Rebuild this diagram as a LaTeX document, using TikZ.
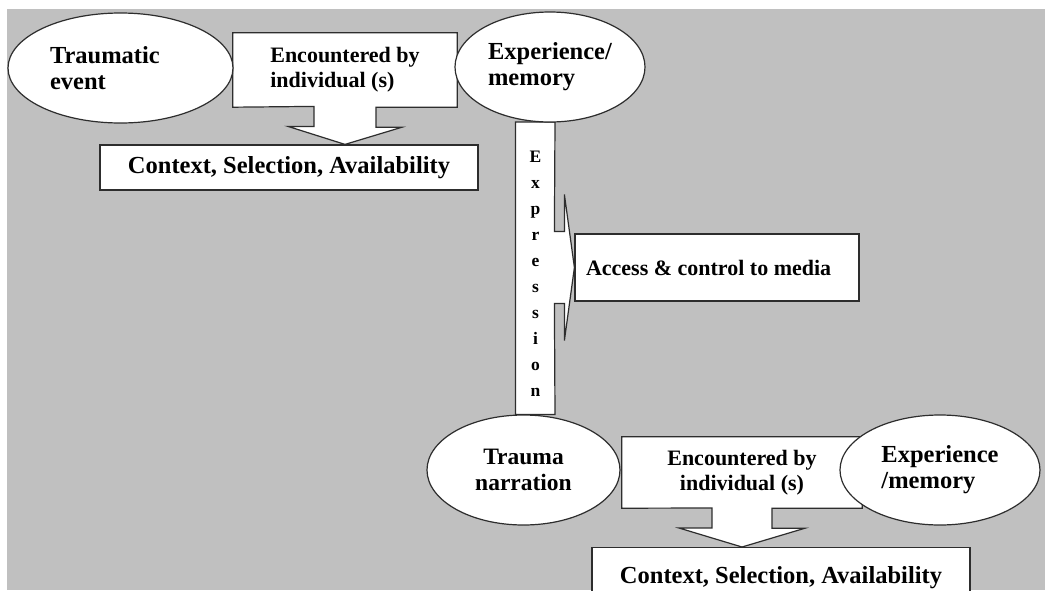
\documentclass[tikz,border=0pt]{standalone}
\usepackage{fontspec}
\setmainfont{Liberation Serif}
\usetikzlibrary{shapes.geometric,backgrounds,calc}
\definecolor{bggray}{RGB}{192,192,192}
\definecolor{edge}{RGB}{45,45,45}

\begin{document}
\begin{tikzpicture}[
        x=1pt, y=-1pt,
        font=\bfseries\fontsize{24.5}{26}\selectfont,
        oval/.style={ellipse, draw=edge, line width=1.2pt, fill=white, inner sep=0pt},
        box/.style={draw=edge, line width=1.2pt, fill=white, inner sep=0pt},
        callout/.style={inner sep=0pt, font=\bfseries\fontsize{22}{25}\selectfont},
        outline/.style={draw=edge, line width=1.2pt, fill=white, line join=miter}
    ]
        \useasboundingbox (0,0) rectangle (1045,590);
        \clip (0,0) rectangle (1045,590);
        \begin{pgfonlayer}{background}
            \fill[white] (0,0) rectangle (1045,590);
            \fill[bggray] (7,9) rectangle (1045,590);
        \end{pgfonlayer}

        % first row
        \node[oval, minimum width=225pt, minimum height=110pt, text width=141pt, align=flush left] (trauma) at (120.5,68) {Traumatic\\event};
        \node[callout, align=left, minimum width=224pt, minimum height=74pt] (encone) at (345,70) {Encountered by\\individual (s)};
        \node[oval, minimum width=190pt, minimum height=110pt, align=left] (expone) at (550,67) {Experience/\\memory};
        \node[box, minimum width=378pt, minimum height=45pt] (ctxone) at (289,167.5) {Context, Selection, Availability};

        % middle
        \node[box, minimum width=284pt, minimum height=67pt, text width=262pt, align=flush left, font=\bfseries\fontsize{22}{25}\selectfont] (access) at (717,267.5) {Access \& control to media};

        % second row
        \node[oval, minimum width=193pt, minimum height=110pt, align=center, font=\bfseries\fontsize{23.5}{26}\selectfont] (narration) at (523.5,470) {Trauma\\narration};
        \node[callout, align=center, minimum width=240pt, minimum height=71pt] (enctwo) at (742,472.5) {Encountered by\\individual (s)};
        \node[oval, minimum width=200pt, minimum height=110pt, align=left] (exptwo) at (940,470) {Experience\\/memory};
        \node[box, minimum width=378pt, minimum height=60pt, anchor=north] (ctxtwo) at (781,547) {Context, Selection, Availability};

        \coordinate (bartop) at (535.5,122);
        \coordinate (barbot) at (bartop |- narration.north);
        \node[font=\bfseries\fontsize{17.5}{26}\selectfont, align=center, inner sep=0pt] (expr) at (535.5,274) {E\\x\\p\\r\\e\\s\\s\\i\\o\\n};

        % block arrows
        \begin{pgfonlayer}{background}
            \draw[outline] (encone.north west) -- (encone.north east) -- (encone.south east)
                -- ([xshift=31pt]encone.south) -- ++(0,20) -- ++(26,0) -- (encone.south |- ctxone.north)
                -- ++(-57,-18) -- ++(26,0) -- ++(0,-20) -- (encone.south west) -- cycle;
            \draw[outline] ($(bartop)+(-20,0)$) -- ($(bartop)+(19.5,0)$) -- ($(access.west)+(-20,-36)$)
                -- ($(access.west)+(-10,-36)$) -- ($(access.west)+(-10,-73)$) -- (access.west)
                -- ($(access.west)+(-10,73)$) -- ($(access.west)+(-10,36)$) -- ($(access.west)+(-20,36)$)
                -- ($(barbot)+(19.5,0)$) -- ($(barbot)+(-20,0)$) -- cycle;
            \draw[outline] (enctwo.north west) -- (enctwo.north east) -- (enctwo.south east)
                -- ([xshift=30pt]enctwo.south) -- ++(0,20) -- ++(33,0) -- (enctwo.south |- ctxtwo.north)
                -- ++(-63,-19) -- ++(33,0) -- ++(0,-20) -- (enctwo.south west) -- cycle;
        \end{pgfonlayer}
    \end{tikzpicture}
\end{document}
